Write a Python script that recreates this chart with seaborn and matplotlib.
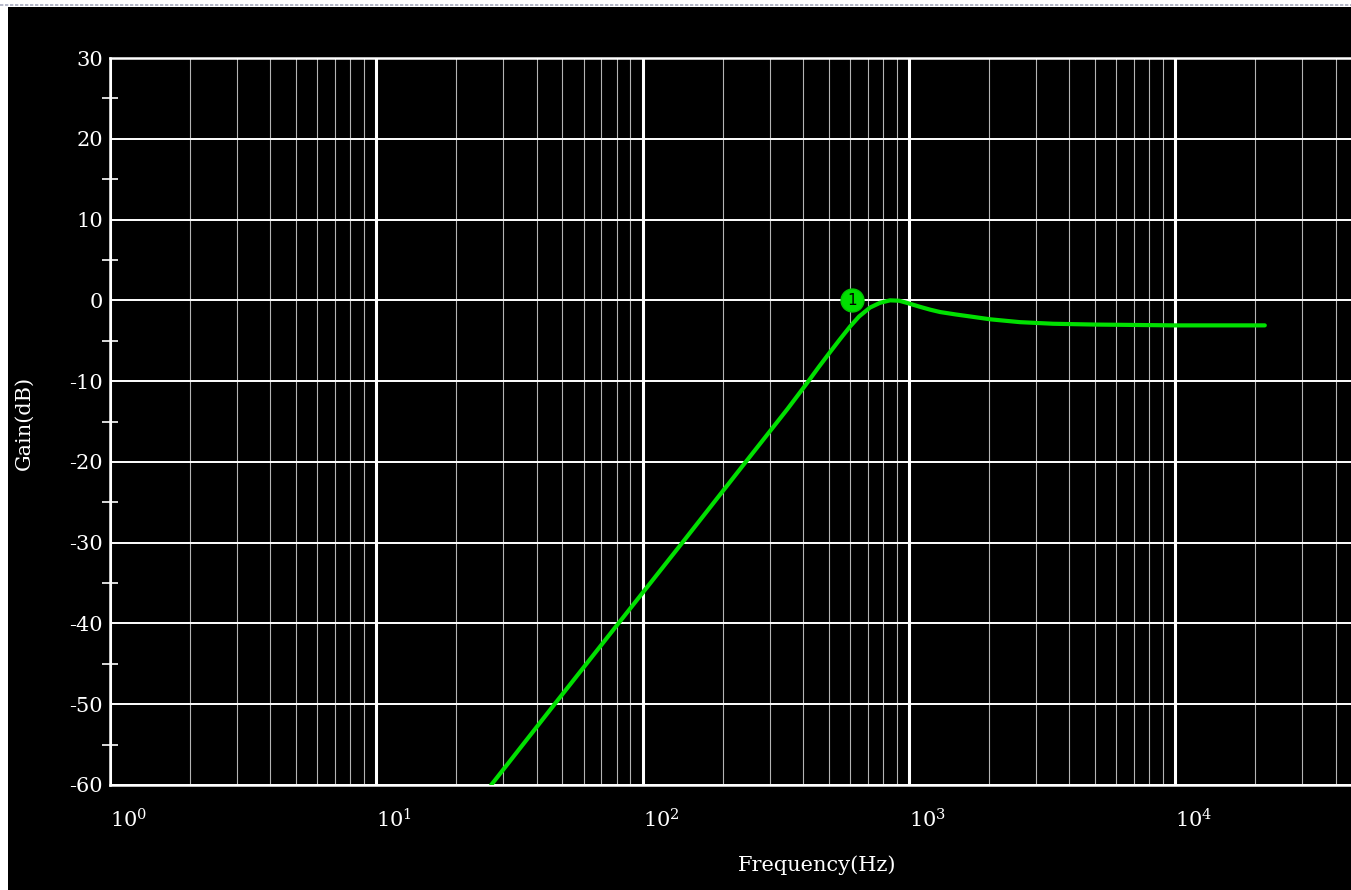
import numpy as np
import pandas as pd
import seaborn as sns
import matplotlib.pyplot as plt
from matplotlib.patches import Rectangle
from matplotlib.lines import Line2D
from matplotlib.ticker import FixedLocator, LogLocator, NullFormatter

sns.set_theme(style="dark")
plt.rcParams['font.family'] = ['DejaVu Serif']
plt.rcParams['mathtext.fontset'] = 'dejavuserif'
plt.rcParams['axes.unicode_minus'] = False

# frequency response
freq_hz = [27, 48, 82, 141, 244, 350, 410, 460, 506, 550, 601, 650, 714, 780, 850,
           920, 980, 1100, 1200, 1310, 1500, 1700, 2020, 2610, 3480, 5000, 10000, 21700]
gain_db = [-60, -49.5, -39.8, -30, -20, -13.45, -10.45, -8.2, -6.4, -4.85, -3.25, -2.0, -0.9, -0.3, 0.0,
           -0.05, -0.3, -0.8, -1.15, -1.45, -1.75, -2.0, -2.35, -2.7, -2.9, -3.0, -3.1, -3.1]

marker_freq = [611]
marker_gain = [0]
marker_text = ["1"]

y_major = [-60, -50, -40, -30, -20, -10, 0, 10, 20, 30]
y_minor = [-55, -45, -35, -25, -15, -5, 5, 15, 25]
x_decades = [1, 10, 100, 1000, 10000]
x_labels = [r"$\mathdefault{10^{0}}$", r"$\mathdefault{10^{1}}$", r"$\mathdefault{10^{2}}$",
            r"$\mathdefault{10^{3}}$", r"$\mathdefault{10^{4}}$"]

df = pd.DataFrame({"Frequency": freq_hz, "Gain": gain_db})

W, H = 1351, 890
fig = plt.figure(figsize=(W / 100, H / 100), dpi=100)
fig.patch.set_facecolor("white")
fig.add_artist(Rectangle((8 / W, 0), 1, (H - 7) / H, transform=fig.transFigure,
                         facecolor="black", edgecolor="none", zorder=0))
fig.add_artist(Line2D([0, 1], [1 - 5 / H, 1 - 5 / H], transform=fig.transFigure,
                      color="#a8acc0", lw=1.2, ls=(0, (2, 1))))

x0, x1 = 110, 1441.5
ax = fig.add_axes([x0 / W, 1 - 785 / H, (x1 - x0) / W, (785 - 58) / H])
ax.set_facecolor("black")
ax.set_xscale("log")

sns.lineplot(data=df, x="Frequency", y="Gain", ax=ax, color="#00e000", lw=3.0,
             estimator=None, sort=False, zorder=5)

# marker "1"
ax.plot(marker_freq, marker_gain, "o", ms=16.5, color="#00e000", mec="#00c800", zorder=6)
for f, g, t in zip(marker_freq, marker_gain, marker_text):
    ax.text(f, g, t, ha="center", va="center", fontsize=11, color="black",
            family="DejaVu Sans", zorder=7)

ax.set_xlim(1, 1e5)
ax.set_ylim(-60, 30)

ax.xaxis.set_major_locator(FixedLocator(x_decades))
ax.xaxis.set_minor_locator(LogLocator(base=10, subs=np.arange(2, 10)))
ax.xaxis.set_minor_formatter(NullFormatter())
ax.set_xticks(x_decades)
ax.set_xticklabels(x_labels, ha="left")
ax.yaxis.set_major_locator(FixedLocator(y_major))
ax.yaxis.set_minor_locator(FixedLocator(y_minor))

ax.grid(which="major", axis="x", color="white", lw=2.2)
ax.grid(which="minor", axis="x", color="#b4b4b4", lw=0.8)
ax.grid(which="major", axis="y", color="white", lw=1.4)

ax.tick_params(axis="x", which="both", length=0, pad=17, labelsize=15, colors="white")
ax.tick_params(axis="y", which="major", length=0, pad=5, labelsize=15, colors="white")
ax.tick_params(axis="y", which="minor", length=11.5, width=1.2, direction="inout",
               color="white", left=True)

for side in ["left", "top", "bottom", "right"]:
    ax.spines[side].set_color("white")
    ax.spines[side].set_linewidth(1.8)
    ax.spines[side].set_visible(True)

ax.set_xlabel("")
ax.set_ylabel("")
fig.text(817 / W, 1 - 865 / H, "Frequency(Hz)", ha="center", va="center",
         fontsize=15, color="white")
fig.text(24 / W, 1 - 423 / H, "Gain(dB)", ha="center", va="center", rotation=90,
         fontsize=15, color="white")

fig.savefig("out.png", dpi=100, facecolor=fig.get_facecolor())
